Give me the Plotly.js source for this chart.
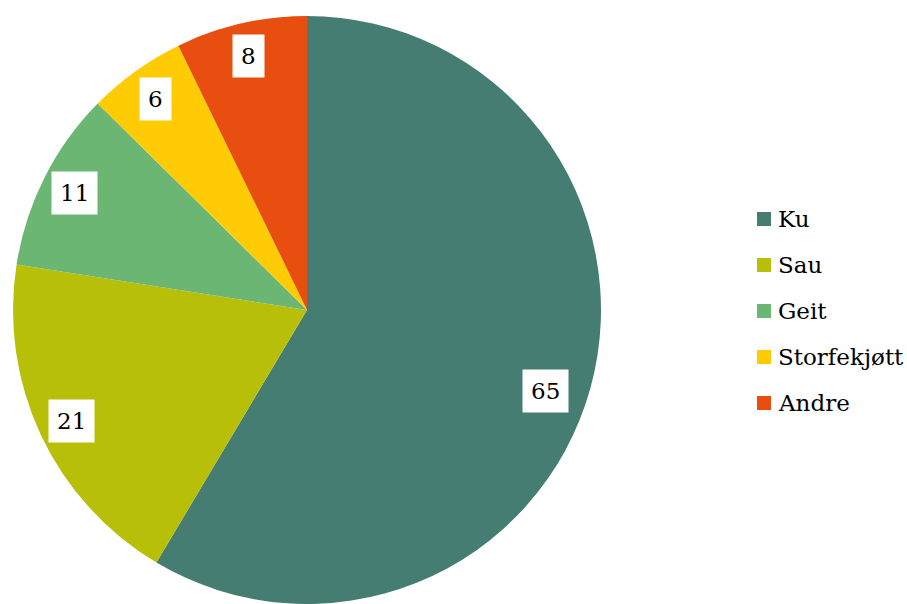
<!DOCTYPE html>
<html>
<head>
<meta charset="utf-8">
<script src="https://cdn.plot.ly/plotly-3.0.1.min.js"></script>
<style>html,body{margin:0;padding:0;background:#fff;}#chart{width:907px;height:604px;}</style>
</head>
<body>
<div id="chart"></div>
<script>
// Data
var categories = ["Ku", "Sau", "Geit", "Storfekjøtt", "Andre"];
var values = [65, 21, 11, 6, 8];
var colors = ["#467d73", "#b8bf08", "#6ab672", "#ffcb05", "#e84e10"];

// Styling / layout constants (not data)
var W = 907, H = 604;
var pieLeft = 13, pieRight = 601, pieTop = 16, pieBottom = 604;
var cx = (pieLeft + pieRight) / 2, cy = (pieTop + pieBottom) / 2;
var R = (pieRight - pieLeft) / 2;
var labelRadius = [0.857, 0.885, 0.885, 0.885, 0.885];
var labelAngleShift = [3.3, 0, 0, 0, 0];
var serif = "DejaVu Serif, Liberation Serif, serif";

var total = values.reduce(function (a, b) { return a + b; }, 0);
var annotations = [];
var shapes = [];
var cum = 0;
values.forEach(function (v, i) {
  var mid = (cum + v / 2) / total * 360 + labelAngleShift[i];
  cum += v;
  var a = mid * Math.PI / 180;
  var d = labelRadius[i] * R;
  var px = cx + d * Math.sin(a);
  var py = cy - d * Math.cos(a);
  annotations.push({
    x: px / W, y: 1 - py / H, xref: "paper", yref: "paper",
    xanchor: "center", yanchor: "middle",
    text: String(v), showarrow: false,
    bgcolor: "#ffffff", borderpad: 8,
    font: {family: serif, size: 23, color: "#000000"}
  });
});

// Manual legend
var legX = 757, legY0 = 219, legStep = 46, sq = 14;
categories.forEach(function (c, i) {
  var yc = legY0 + i * legStep;
  shapes.push({
    type: "rect", xref: "paper", yref: "paper",
    x0: legX / W, x1: (legX + sq) / W,
    y0: 1 - (yc + sq / 2) / H, y1: 1 - (yc - sq / 2) / H,
    fillcolor: colors[i], line: {width: 0}
  });
  annotations.push({
    x: (legX + sq + 5) / W, y: 1 - yc / H, xref: "paper", yref: "paper",
    xanchor: "left", yanchor: "middle",
    text: c, showarrow: false,
    font: {family: serif, size: 23, color: "#000000"}
  });
});

var trace = {
  type: "pie",
  labels: categories,
  values: values,
  marker: {colors: colors, line: {width: 0}},
  sort: false,
  direction: "clockwise",
  rotation: 0,
  textinfo: "none",
  hoverinfo: "label+value",
  showlegend: false,
  domain: {x: [pieLeft / W, pieRight / W], y: [1 - pieBottom / H, 1 - pieTop / H]}
};

var layout = {
  width: W, height: H,
  margin: {l: 0, r: 0, t: 0, b: 0},
  paper_bgcolor: "#ffffff",
  showlegend: false,
  annotations: annotations,
  shapes: shapes
};

Plotly.newPlot("chart", [trace], layout, {displayModeBar: false, staticPlot: true});
</script>
</body>
</html>
